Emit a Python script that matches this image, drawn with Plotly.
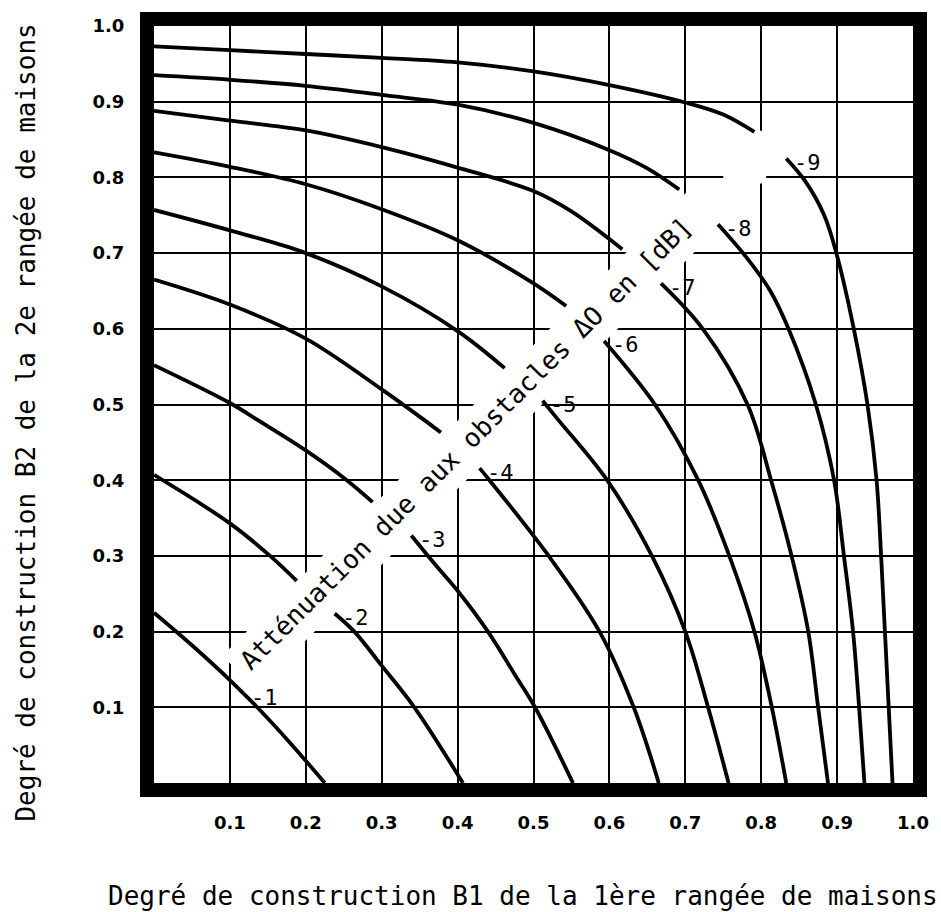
import plotly.graph_objects as go

# ---------------- data ----------------
levels = [-1, -2, -3, -4, -5, -6, -7, -8, -9]

# part of each curve between the B2 axis and the diagonal caption
upper_x = [
    [0.0, 0.05, 0.1, 0.118],
    [0.0, 0.1, 0.153, 0.188],
    [0.0, 0.1, 0.139, 0.199, 0.254, 0.288],
    [0.0, 0.1, 0.2, 0.3, 0.35, 0.378],
    [0.0, 0.1, 0.2, 0.3, 0.4, 0.462],
    [0.0, 0.1, 0.2, 0.3, 0.4, 0.5, 0.543],
    [0.0, 0.1, 0.2, 0.3, 0.4, 0.5, 0.55, 0.617],
    [0.0, 0.1, 0.2, 0.3, 0.4, 0.5, 0.6, 0.65, 0.692],
    [0.0, 0.1, 0.2, 0.3, 0.4, 0.5, 0.6, 0.7, 0.75, 0.791],
]
upper_y = [
    [0.225, 0.182, 0.136, 0.118],
    [0.407, 0.343, 0.3, 0.267],
    [0.552, 0.502, 0.478, 0.440, 0.40, 0.371],
    [0.665, 0.632, 0.587, 0.520, 0.484, 0.463],
    [0.757, 0.730, 0.700, 0.656, 0.597, 0.548],
    [0.833, 0.814, 0.791, 0.758, 0.717, 0.660, 0.630],
    [0.888, 0.875, 0.862, 0.840, 0.813, 0.782, 0.755, 0.705],
    [0.935, 0.929, 0.921, 0.909, 0.896, 0.872, 0.836, 0.812, 0.784],
    [0.973, 0.968, 0.963, 0.958, 0.952, 0.940, 0.922, 0.899, 0.883, 0.860],
]
# part of each curve between the label and the B1 axis
lower_x = [
    [0.118, 0.136, 0.182, 0.225],
    [0.238, 0.264, 0.3, 0.343, 0.407],
    [0.339, 0.371, 0.40, 0.440, 0.478, 0.502, 0.552],
    [0.429, 0.442, 0.520, 0.587, 0.632, 0.665],
    [0.512, 0.534, 0.597, 0.656, 0.700, 0.730, 0.757],
    [0.593, 0.660, 0.717, 0.758, 0.791, 0.814, 0.833],
    [0.668, 0.723, 0.782, 0.813, 0.840, 0.862, 0.875, 0.888],
    [0.743, 0.780, 0.812, 0.836, 0.872, 0.896, 0.909, 0.921, 0.929, 0.936],
    [0.833, 0.858, 0.883, 0.899, 0.922, 0.940, 0.952, 0.958, 0.963, 0.968, 0.973],
]
lower_y = [
    [0.118, 0.1, 0.05, 0.0],
    [0.224, 0.2, 0.155, 0.1, 0.0],
    [0.327, 0.288, 0.254, 0.2, 0.139, 0.1, 0.0],
    [0.416, 0.4, 0.3, 0.2, 0.1, 0.0],
    [0.505, 0.478, 0.4, 0.3, 0.2, 0.1, 0.0],
    [0.584, 0.5, 0.4, 0.3, 0.2, 0.1, 0.0],
    [0.660, 0.6, 0.5, 0.4, 0.3, 0.2, 0.1, 0.0],
    [0.738, 0.695, 0.65, 0.6, 0.5, 0.4, 0.3, 0.2, 0.1, 0.0],
    [0.825, 0.795, 0.75, 0.7, 0.6, 0.5, 0.4, 0.3, 0.2, 0.1, 0.0],
]

tick_vals = [0.1, 0.2, 0.3, 0.4, 0.5, 0.6, 0.7, 0.8, 0.9, 1.0]
tick_text = ["0.1", "0.2", "0.3", "0.4", "0.5", "0.6", "0.7", "0.8", "0.9", "1.0"]

x_title = "Degré de construction B1 de la 1ère rangée de maisons"
y_title = "Degré de construction B2 de la 2e rangée de maisons"
caption = "Atténuation due aux obstacles ΔO en [dB]"

# ---------------- figure ----------------
MONO = "DejaVu Sans Mono"
W, H = 941, 912
ML, MR, MT, MB = 154, 27, 24, 129
PW, PH = W - ML - MR, H - MT - MB

fig = go.Figure()

for i, lvl in enumerate(levels):
    for xs, ys in ((upper_x[i], upper_y[i]), (lower_x[i], lower_y[i])):
        fig.add_trace(go.Scatter(
            x=xs, y=ys, mode="lines",
            line=dict(color="black", width=3.8, shape="spline", smoothing=1.0),
            hoverinfo="skip", showlegend=False,
        ))
    fig.add_annotation(
        x=lower_x[i][0], y=lower_y[i][0], text=f"{lvl}", showarrow=False,
        xanchor="center", yanchor="middle", xshift=21, yshift=-4,
        font=dict(family=MONO, size=22, color="black"),
    )

# white band behind the diagonal caption (hides the grid only)
def px2data(X, Y):
    return (X - ML) / PW, (MT + PH - Y) / PH

half = 17.0
a0 = (239.5, 672.5)
a1 = (712.0, 200.0)
corners = [
    (a0[0] + half, a0[1] + half), (a1[0] + half, a1[1] + half),
    (a1[0] - half, a1[1] - half), (a0[0] - half, a0[1] - half),
]
pts = [px2data(*c) for c in corners]
path = "M " + " L ".join(f"{x:.4f},{y:.4f}" for x, y in pts) + " Z"
fig.add_shape(type="path", path=path, xref="x", yref="y",
              fillcolor="white", line=dict(width=0), layer="between")
p0 = px2data(724, 182)
p1 = px2data(767, 129)
fig.add_shape(type="rect", x0=p0[0], y0=p0[1], x1=p1[0], y1=p1[1], xref="x", yref="y",
              fillcolor="white", line=dict(width=0), layer="between")

cx, cy = px2data(466, 443)
fig.add_annotation(x=cx, y=cy, text=caption, textangle=-45, showarrow=False,
                   xanchor="center", yanchor="middle",
                   font=dict(family=MONO, size=26, color="black"))

fig.add_annotation(xref="paper", yref="paper", x=(523.5 - ML) / PW, y=(MT + PH - 896) / PH,
                   text=x_title, showarrow=False, xanchor="center", yanchor="middle",
                   font=dict(family=MONO, size=26, color="black"))
fig.add_annotation(xref="paper", yref="paper", x=(26 - ML) / PW, y=(MT + PH - 421.5) / PH,
                   text=y_title, textangle=-90, showarrow=False, xanchor="center", yanchor="middle",
                   font=dict(family=MONO, size=26, color="black"))

axis_common = dict(
    range=[0, 1], tickvals=tick_vals, ticktext=tick_text,
    showgrid=True, gridcolor="black", gridwidth=1.6, zeroline=False,
    showline=True, linecolor="black", linewidth=14, mirror=True,
    ticks="", tickfont=dict(family="DejaVu Sans", size=18, color="black", weight="bold"),
    fixedrange=True,
)
fig.update_xaxes(**axis_common, ticklabelstandoff=10)
fig.update_yaxes(**axis_common, ticklabelstandoff=12)

fig.update_layout(
    width=W, height=H,
    margin=dict(l=ML, r=MR, t=MT, b=MB, pad=0),
    paper_bgcolor="white", plot_bgcolor="white",
    showlegend=False,
)

fig.write_html("out.html")
